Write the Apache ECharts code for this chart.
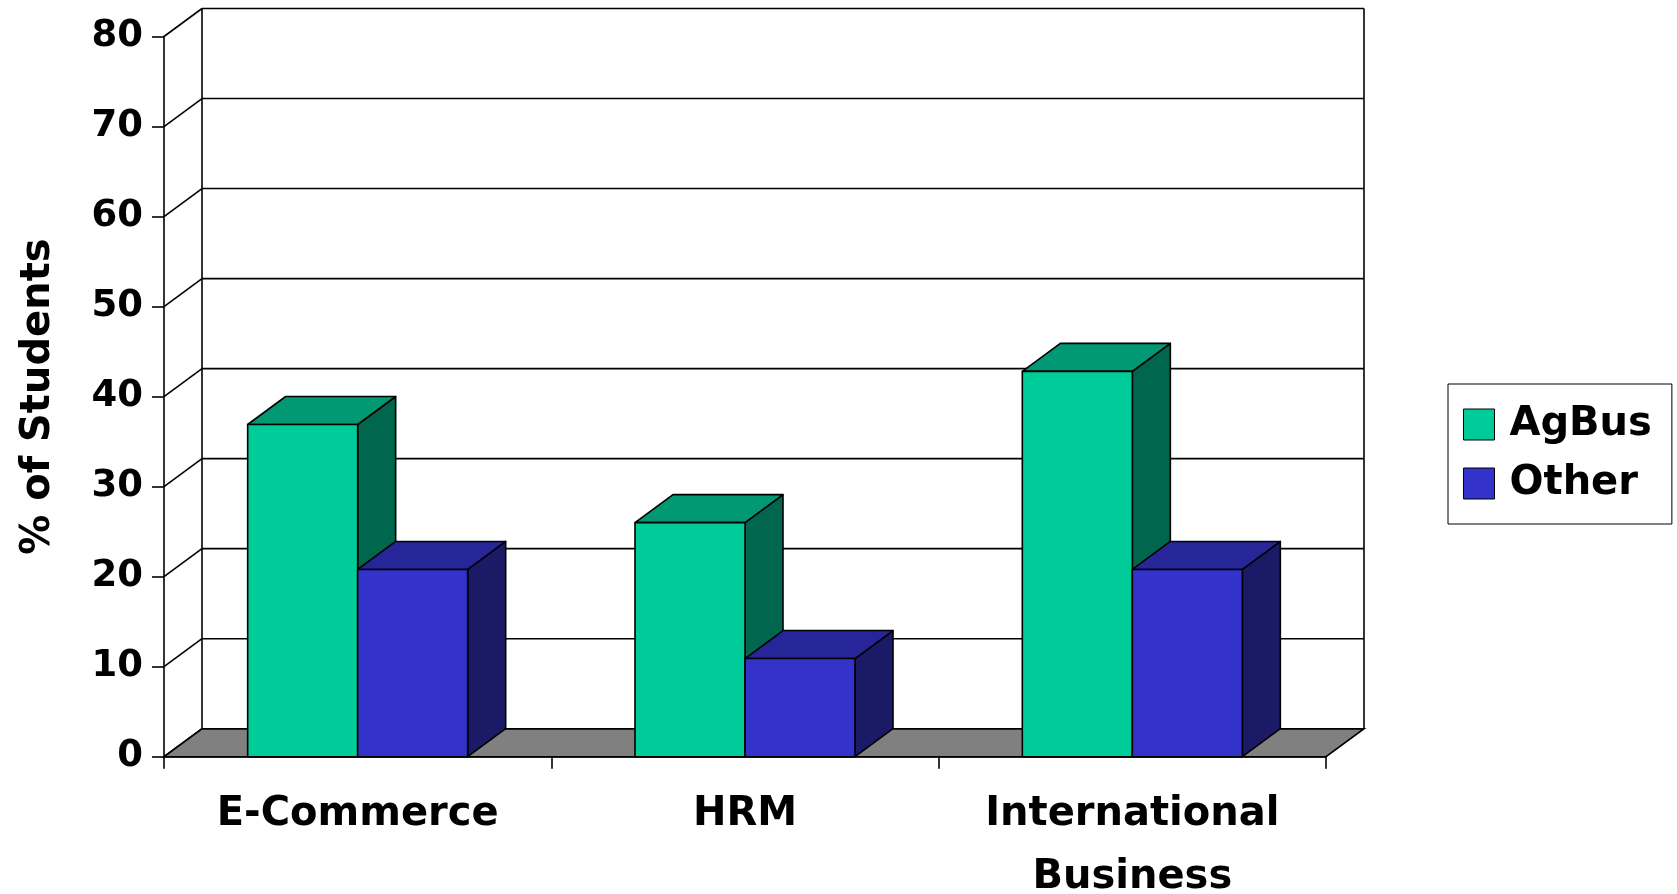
<!DOCTYPE html>
<html>
<head>
<meta charset="utf-8">
<script src="https://cdn.jsdelivr.net/npm/echarts@6/dist/echarts.min.js"></script>
<style>
html,body{margin:0;padding:0;background:#fff;}
#chart{width:1677px;height:894px;}
</style>
</head>
<body>
<div id="chart"></div>
<script>
// ---- data ----
const categories = ['E-Commerce', 'HRM', 'International\nBusiness'];
const agBus = [36.9, 26.0, 42.8];
const other = [20.8, 10.9, 20.8];
const seriesNames = ['AgBus', 'Other'];
const yTicks = [0, 10, 20, 30, 40, 50, 60, 70, 80];

// ---- style constants ----
const DX = 38, DY = -28;           // 3D depth offset
const BAR_FRAC = 0.284;            // bar width as fraction of band
const FONT = 'DejaVu Sans';
const palettes = [
  { front: '#00CC99', top: '#009973', side: '#00664D' },
  { front: '#3333CC', top: '#262699', side: '#1A1A66' }
];
const LW = 1.6;

function wallItem(params, api) {
  const v = api.value(1);
  const bw = api.size([1, 0])[0];
  const p0 = api.coord([0, v]);
  const pEnd = api.coord([categories.length - 1, v]);
  const xL = p0[0] - bw / 2, xR = pEnd[0] + bw / 2, y = p0[1];
  const children = [];
  const ln = { stroke: '#000', lineWidth: LW };
  if (params.dataIndex === 0) {
    const yTop = api.coord([0, yTicks[yTicks.length - 1]])[1];
    children.push({ type: 'polygon', shape: { points: [[xL, y], [xR, y], [xR + DX, y + DY], [xL + DX, y + DY]] },
      style: { fill: '#808080', stroke: '#000', lineWidth: LW } });
    children.push({ type: 'line', shape: { x1: xL + DX, y1: y + DY, x2: xL + DX, y2: yTop + DY }, style: ln });
    children.push({ type: 'line', shape: { x1: xR + DX, y1: y + DY, x2: xR + DX, y2: yTop + DY }, style: ln });
  }
  children.push({ type: 'line', shape: { x1: xL, y1: y, x2: xL + DX, y2: y + DY }, style: ln });
  children.push({ type: 'line', shape: { x1: xL + DX, y1: y + DY, x2: xR + DX, y2: y + DY }, style: ln });
  return { type: 'group', children };
}

function barRenderer(si) {
  return function (params, api) {
    const ci = api.value(0), v = api.value(1);
    const bw = api.size([1, 0])[0];
    const w = bw * BAR_FRAC;
    const c = api.coord([ci, v]);
    const b = api.coord([ci, 0]);
    const xl = c[0] - w + si * w, xr = xl + w, yt = c[1], yb = b[1];
    const pal = palettes[si];
    const st = (fill) => ({ fill, stroke: '#000', lineWidth: LW, lineJoin: 'round' });
    return {
      type: 'group',
      children: [
        { type: 'polygon', shape: { points: [[xr, yt], [xr + DX, yt + DY], [xr + DX, yb + DY], [xr, yb]] }, style: st(pal.side) },
        { type: 'polygon', shape: { points: [[xl, yt], [xr, yt], [xr + DX, yt + DY], [xl + DX, yt + DY]] }, style: st(pal.top) },
        { type: 'rect', shape: { x: xl, y: yt, width: w, height: yb - yt }, style: st(pal.front) }
      ]
    };
  };
}

const chart = echarts.init(document.getElementById('chart'), null, { renderer: 'canvas' });
chart.setOption({
  animation: false,
  backgroundColor: '#fff',
  grid: { left: 164, top: 36.5, right: 351, bottom: 137.3, containLabel: false, outerBoundsMode: 'none' },
  legend: {
    orient: 'vertical',
    left: 1448, top: 384,
    padding: [20.5, 20, 20.5, 15],
    itemGap: 19,
    itemWidth: 31, itemHeight: 31,
    icon: 'rect',
    borderColor: '#000', borderWidth: 1,
    backgroundColor: '#fff',
    data: [
      { name: seriesNames[0], itemStyle: { color: palettes[0].front, borderColor: '#000', borderWidth: 1 } },
      { name: seriesNames[1], itemStyle: { color: palettes[1].front, borderColor: '#000', borderWidth: 1 } }
    ],
    textStyle: { fontFamily: FONT, fontWeight: 'bold', fontSize: 40, color: '#000', padding: [0, 0, 0, 10] }
  },
  xAxis: {
    type: 'category',
    data: categories,
    axisLine: { show: true, lineStyle: { color: '#000', width: LW } },
    axisTick: { show: true, interval: 0, length: 12, lineStyle: { color: '#000', width: LW } },
    axisLabel: { interval: 0, margin: 26, fontFamily: FONT, fontWeight: 'bold', fontSize: 40, lineHeight: 63, color: '#000' },
    splitLine: { show: false }
  },
  yAxis: {
    type: 'value',
    min: yTicks[0], max: yTicks[yTicks.length - 1], interval: 10,
    name: '% of Students',
    nameLocation: 'middle',
    nameGap: 105,
    nameTextStyle: { fontFamily: FONT, fontWeight: 'bold', fontSize: 40, color: '#000' },
    axisLine: { show: true, lineStyle: { color: '#000', width: LW } },
    axisTick: { show: true, length: 12, lineStyle: { color: '#000', width: LW } },
    axisLabel: { margin: 21, fontFamily: FONT, fontWeight: 'bold', fontSize: 37, color: '#000' },
    splitLine: { show: false }
  },
  series: [
    {
      name: 'wall', type: 'custom', z: 1, silent: true,
      renderItem: wallItem,
      encode: { x: 0, y: 1 },
      data: yTicks.map(v => [0, v])
    },
    {
      name: seriesNames[0], type: 'custom', z: 2,
      itemStyle: { color: palettes[0].front },
      renderItem: barRenderer(0),
      encode: { x: 0, y: 1 },
      data: agBus.map((v, i) => [i, v])
    },
    {
      name: seriesNames[1], type: 'custom', z: 3,
      itemStyle: { color: palettes[1].front },
      renderItem: barRenderer(1),
      encode: { x: 0, y: 1 },
      data: other.map((v, i) => [i, v])
    }
  ]
});
</script>
</body>
</html>
